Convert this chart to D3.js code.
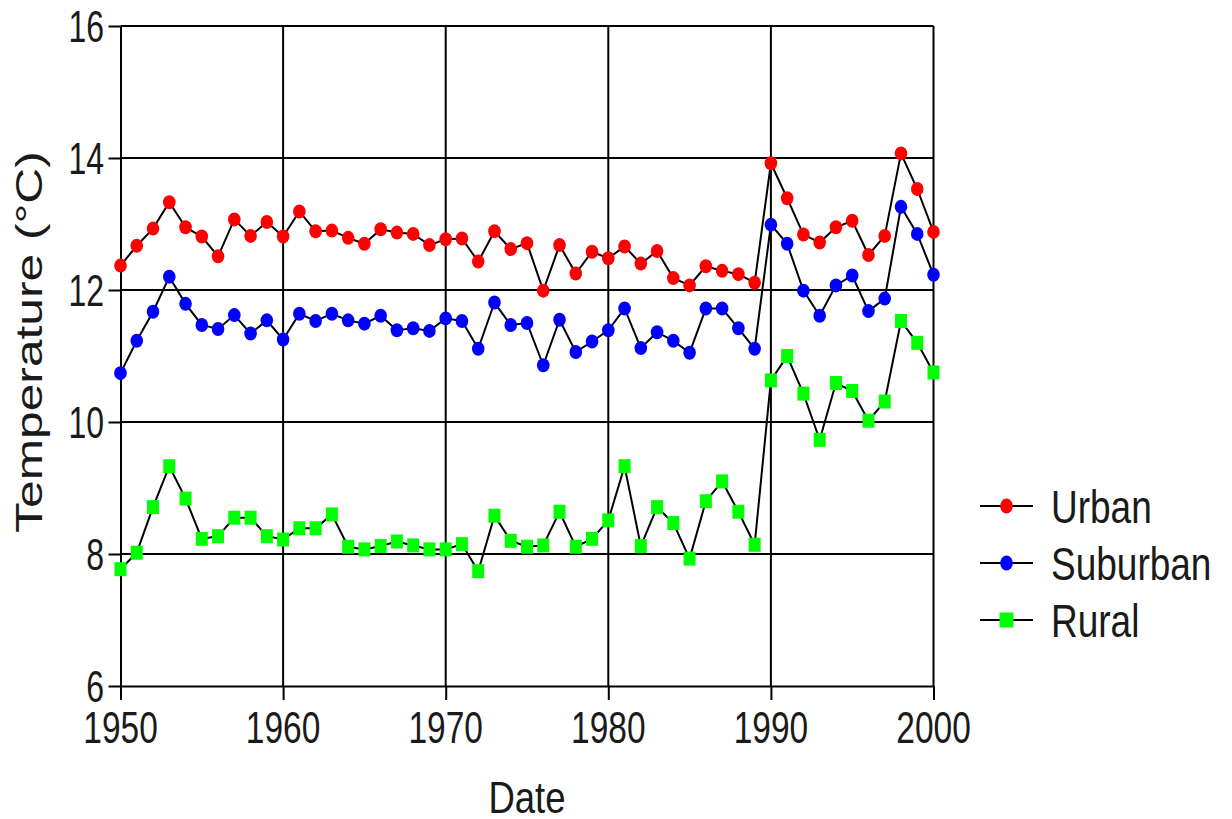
<!DOCTYPE html>
<html>
<head>
<meta charset="utf-8">
<script src="https://cdn.jsdelivr.net/npm/d3@7"></script>
<style>
  html, body { margin: 0; padding: 0; background: #fff; }
  svg { display: block; }
  text { font-family: "Liberation Sans", Arial, sans-serif; fill: #1a1a1a; }
</style>
</head>
<body>
<svg id="chart" width="1232" height="819"></svg>
<script>
// Annual mean temperature (°C), 1950–2000
const years = d3.range(1950, 2001);

const urban = [
  12.37, 12.67, 12.93, 13.33, 12.95, 12.81, 12.51, 13.07, 12.82, 13.03,
  12.81, 13.19, 12.89, 12.90, 12.79, 12.70, 12.92, 12.87, 12.85, 12.68,
  12.77, 12.78, 12.43, 12.89, 12.62, 12.71, 11.99, 12.68, 12.25, 12.58,
  12.48, 12.66, 12.40, 12.59, 12.18, 12.07, 12.36, 12.29, 12.24, 12.11,
  13.92, 13.39, 12.84, 12.72, 12.95, 13.05, 12.53, 12.82, 14.07, 13.53,
  12.88
];

const suburban = [
  10.74, 11.23, 11.67, 12.20, 11.79, 11.47, 11.41, 11.62, 11.34, 11.54,
  11.25, 11.64, 11.53, 11.64, 11.54, 11.49, 11.61, 11.39, 11.42, 11.38,
  11.57, 11.53, 11.11, 11.81, 11.47, 11.50, 10.86, 11.55, 11.06, 11.22,
  11.39, 11.72, 11.12, 11.36, 11.23, 11.05, 11.72, 11.72, 11.42, 11.11,
  12.99, 12.70, 11.99, 11.61, 12.07, 12.22, 11.68, 11.87, 13.26, 12.85,
  12.23
];

const rural = [
  7.77, 8.02, 8.71, 9.33, 8.84, 8.23, 8.27, 8.55, 8.55, 8.27,
  8.22, 8.39, 8.39, 8.60, 8.11, 8.07, 8.12, 8.19, 8.13, 8.07,
  8.07, 8.15, 7.74, 8.58, 8.20, 8.11, 8.13, 8.64, 8.11, 8.23,
  8.51, 9.33, 8.12, 8.71, 8.47, 7.93, 8.80, 9.10, 8.64, 8.14,
  10.63, 11.00, 10.43, 9.73, 10.59, 10.47, 10.02, 10.31, 11.53, 11.20,
  10.75
];

const seriesNames = ["Urban", "Suburban", "Rural"];
const xTicks = [1950, 1960, 1970, 1980, 1990, 2000];
const yTicks = [6, 8, 10, 12, 14, 16];

const seriesList = [
  { name: seriesNames[0], values: urban,    color: "#ff0000", shape: "circle" },
  { name: seriesNames[1], values: suburban, color: "#0000ff", shape: "circle" },
  { name: seriesNames[2], values: rural,    color: "#00ff00", shape: "square" }
];

const svg = d3.select("#chart");
const x = d3.scaleLinear().domain([1950, 2000]).range([120.5, 933.5]);
const y = d3.scaleLinear().domain([6, 16]).range([686, 26]);

// grid
const grid = svg.append("g");
grid.selectAll("line.h").data(yTicks.filter(v => v > 6)).join("line")
  .attr("x1", x(1950)).attr("x2", x(2000))
  .attr("y1", d => y(d)).attr("y2", d => y(d))
  .attr("stroke", "#000").attr("stroke-width", 2);
grid.selectAll("line.v").data(xTicks.filter(v => v > 1950)).join("line")
  .attr("x1", d => x(d)).attr("x2", d => x(d))
  .attr("y1", y(16)).attr("y2", y(6))
  .attr("stroke", "#000").attr("stroke-width", 2);

// axes (lines and ticks)
const gx = svg.append("g").attr("transform", `translate(0,${y(6)})`)
  .call(d3.axisBottom(x).tickValues(xTicks).tickSize(14).tickSizeOuter(0).tickFormat(""));
const gy = svg.append("g").attr("transform", `translate(${x(1950)},0)`)
  .call(d3.axisLeft(y).tickValues(yTicks).tickSize(12).tickSizeOuter(0).tickFormat(""));
[gx, gy].forEach(g => {
  g.select(".domain").attr("stroke", "#000").attr("stroke-width", 2);
  g.selectAll(".tick line").attr("stroke", "#000").attr("stroke-width", 2);
});

// tick labels
svg.append("g").selectAll("text").data(xTicks).join("text")
  .attr("transform", d => `translate(${x(d)},743) scale(1,1.31)`)
  .attr("text-anchor", "middle")
  .style("font-size", "33.5px")
  .text(d => d);
svg.append("g").selectAll("text").data(yTicks).join("text")
  .attr("transform", d => `translate(104,${y(d) + 16}) scale(1,1.38)`)
  .attr("text-anchor", "end")
  .style("font-size", "32px")
  .text(d => d);

// axis titles
svg.append("text")
  .attr("transform", "translate(527,813) scale(1,1.23)")
  .attr("text-anchor", "middle")
  .style("font-size", "36.5px")
  .text("Date");
svg.append("text")
  .attr("transform", "translate(42,342) rotate(-90) scale(1.38,1)")
  .attr("text-anchor", "middle")
  .style("font-size", "36px")
  .text("Temperature (°C)");

// series
const line = d3.line().x((d, i) => x(years[i])).y(d => y(d));
const marks = svg.append("g");

function drawMarker(g, shape, color, cx, cy, w, h) {
  if (shape === "circle") {
    g.append("ellipse").attr("cx", cx).attr("cy", cy)
      .attr("rx", w / 2).attr("ry", h / 2).attr("fill", color);
  } else {
    g.append("rect").attr("x", cx - w / 2).attr("y", cy - h / 2)
      .attr("width", w).attr("height", h).attr("fill", color);
  }
}

seriesList.slice().reverse().forEach(s => {
  marks.append("path").datum(s.values)
    .attr("d", line).attr("fill", "none")
    .attr("stroke", "#000").attr("stroke-width", 2);
});
seriesList.slice().reverse().forEach(s => {
  const g = marks.append("g");
  if (s.shape === "circle") {
    g.selectAll("ellipse").data(s.values).join("ellipse")
      .attr("cx", (d, i) => x(years[i])).attr("cy", d => y(d))
      .attr("rx", 6.3).attr("ry", 7).attr("fill", s.color);
  } else {
    g.selectAll("rect").data(s.values).join("rect")
      .attr("x", (d, i) => x(years[i]) - 6).attr("y", d => y(d) - 7)
      .attr("width", 12).attr("height", 14).attr("fill", s.color);
  }
});

// legend
const legendRows = [506, 563, 620];
const legend = svg.append("g");
seriesList.forEach((s, i) => {
  const cy = legendRows[i];
  legend.append("line").attr("x1", 980).attr("x2", 1033)
    .attr("y1", cy).attr("y2", cy)
    .attr("stroke", "#000").attr("stroke-width", 2);
  if (s.shape === "circle") drawMarker(legend, s.shape, s.color, 1006.5, cy, 12.6, 15);
  else drawMarker(legend, s.shape, s.color, 1006.5, cy, 14, 15);
  legend.append("text")
    .attr("transform", `translate(1051,${cy + 17}) scale(1,1.23)`)
    .style("font-size", "37px")
    .text(s.name);
});
</script>
</body>
</html>
